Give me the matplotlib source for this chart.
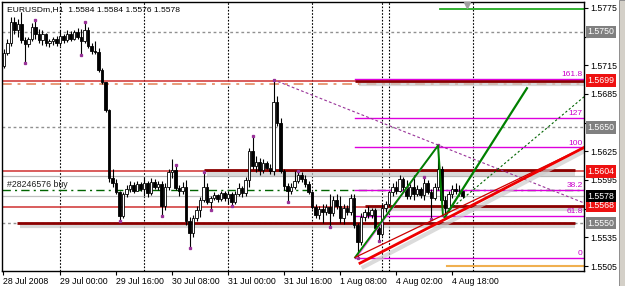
import numpy as np
import matplotlib.pyplot as plt
from matplotlib.patches import Rectangle

plt.rcParams['font.family'] = ['Liberation Sans', 'DejaVu Sans']

# EURUSDm H1, bar 0 = 29 Jul 00:00
bars = list(range(-16, 116))
opens = [1.5714, 1.5728, 1.5738, 1.5760, 1.5752, 1.5758, 1.5741, 1.5737, 1.5742, 1.5755,
         1.5748, 1.5741, 1.5748, 1.5738, 1.5740, 1.5743, 1.5738, 1.5746, 1.5741, 1.5748,
         1.5743, 1.5750, 1.5745, 1.5740, 1.5752, 1.5735, 1.5730, 1.5729, 1.5710, 1.5697,
         1.5668, 1.5597, 1.5592, 1.5582, 1.5557, 1.5580, 1.5586, 1.5590, 1.5584, 1.5591,
         1.5586, 1.5592, 1.5581, 1.5593, 1.5588, 1.5591, 1.5568, 1.5588, 1.5603, 1.5605,
         1.5587, 1.5583, 1.5588, 1.5552, 1.5540, 1.5555, 1.5564, 1.5574, 1.5588, 1.5572,
         1.5576, 1.5579, 1.5575, 1.5581, 1.5576, 1.5580, 1.5572, 1.5580, 1.5587, 1.5581,
         1.5595, 1.5625, 1.5610, 1.5614, 1.5605, 1.5613, 1.5608, 1.5604, 1.5677, 1.5655,
         1.5604, 1.5589, 1.5584, 1.5588, 1.5594, 1.5600, 1.5596, 1.5591, 1.5582, 1.5567,
         1.5558, 1.5565, 1.5562, 1.5567, 1.5560, 1.5574, 1.5568, 1.5555, 1.5566, 1.5561,
         1.5576, 1.5548, 1.5530, 1.5556, 1.5562, 1.5558, 1.5564, 1.5545, 1.5538, 1.5566,
         1.5570, 1.5582, 1.5588, 1.5584, 1.5596, 1.5588, 1.5578, 1.5588, 1.5580, 1.5586,
         1.5579, 1.5592, 1.5582, 1.5576, 1.5588, 1.5606, 1.5574, 1.5566, 1.5580, 1.5586,
         1.5583, 1.5584]
highs = [1.5732, 1.5742, 1.5765, 1.5765, 1.5763, 1.5771, 1.5745, 1.5745, 1.5759, 1.5762,
         1.5753, 1.5752, 1.5749, 1.5743, 1.5745, 1.5746, 1.5752, 1.5748, 1.5752, 1.5751,
         1.5752, 1.5754, 1.5753, 1.5760, 1.5755, 1.5738, 1.5740, 1.5733, 1.5712, 1.5698,
         1.5669, 1.5606, 1.5596, 1.5584, 1.5582, 1.5590, 1.5594, 1.5593, 1.5594, 1.5593,
         1.5598, 1.5594, 1.5597, 1.5596, 1.5594, 1.5594, 1.5592, 1.5607, 1.5617, 1.5610,
         1.5590, 1.5593, 1.5595, 1.5556, 1.5558, 1.5568, 1.5577, 1.5603, 1.5592, 1.5578,
         1.5582, 1.5580, 1.5584, 1.5583, 1.5583, 1.5582, 1.5584, 1.5592, 1.5589, 1.5598,
         1.5628, 1.5640, 1.5620, 1.5618, 1.5617, 1.5615, 1.5612, 1.5699, 1.5683, 1.5660,
         1.5606, 1.5592, 1.5592, 1.5604, 1.5604, 1.5603, 1.5600, 1.5594, 1.5584, 1.5570,
         1.5568, 1.5570, 1.5570, 1.5580, 1.5578, 1.5580, 1.5578, 1.5570, 1.5569, 1.5580,
         1.5580, 1.5550, 1.5560, 1.5565, 1.5568, 1.5566, 1.5566, 1.5550, 1.5570, 1.5573,
         1.5584, 1.5592, 1.5594, 1.5600, 1.5598, 1.5595, 1.5592, 1.5600, 1.5590, 1.5588,
         1.5598, 1.5595, 1.5586, 1.5592, 1.5631, 1.5610, 1.5578, 1.5584, 1.5590, 1.5592,
         1.5590, 1.5584]
lows = [1.5712, 1.5726, 1.5735, 1.5748, 1.5745, 1.5738, 1.5718, 1.5734, 1.5740, 1.5743,
        1.5738, 1.5736, 1.5735, 1.5734, 1.5736, 1.5735, 1.5735, 1.5738, 1.5739, 1.5740,
        1.5741, 1.5742, 1.5726, 1.5738, 1.5733, 1.5727, 1.5727, 1.5708, 1.5695, 1.5666,
        1.5593, 1.5588, 1.5580, 1.5553, 1.5555, 1.5577, 1.5582, 1.5581, 1.5583, 1.5584,
        1.5578, 1.5577, 1.5579, 1.5586, 1.5585, 1.5558, 1.5564, 1.5585, 1.5597, 1.5585,
        1.5578, 1.5580, 1.5548, 1.5524, 1.5535, 1.5552, 1.5556, 1.5572, 1.5570, 1.5564,
        1.5574, 1.5572, 1.5573, 1.5573, 1.5570, 1.5568, 1.5570, 1.5578, 1.5577, 1.5578,
        1.5588, 1.5606, 1.5603, 1.5600, 1.5602, 1.5606, 1.5601, 1.5600, 1.5652, 1.5602,
        1.5585, 1.5573, 1.5580, 1.5586, 1.5592, 1.5593, 1.5588, 1.5580, 1.5565, 1.5555,
        1.5554, 1.5550, 1.5558, 1.5546, 1.5557, 1.5565, 1.5550, 1.5549, 1.5558, 1.5558,
        1.5545, 1.5514, 1.5527, 1.5552, 1.5555, 1.5555, 1.5542, 1.5532, 1.5536, 1.5562,
        1.5568, 1.5578, 1.5580, 1.5582, 1.5585, 1.5575, 1.5575, 1.5574, 1.5578, 1.5576,
        1.5574, 1.5580, 1.5555, 1.5574, 1.5585, 1.5572, 1.5558, 1.5562, 1.5576, 1.5580,
        1.5578, 1.5576]
closes = [1.5728, 1.5738, 1.5760, 1.5752, 1.5758, 1.5741, 1.5737, 1.5742, 1.5755, 1.5748,
          1.5741, 1.5748, 1.5738, 1.5740, 1.5743, 1.5738, 1.5746, 1.5741, 1.5748, 1.5743,
          1.5750, 1.5745, 1.5740, 1.5752, 1.5735, 1.5730, 1.5729, 1.5710, 1.5697, 1.5668,
          1.5597, 1.5592, 1.5582, 1.5557, 1.5580, 1.5586, 1.5590, 1.5584, 1.5591, 1.5586,
          1.5592, 1.5581, 1.5593, 1.5588, 1.5591, 1.5568, 1.5588, 1.5603, 1.5605, 1.5587,
          1.5583, 1.5588, 1.5552, 1.5540, 1.5555, 1.5564, 1.5574, 1.5588, 1.5572, 1.5576,
          1.5579, 1.5575, 1.5581, 1.5576, 1.5580, 1.5572, 1.5580, 1.5587, 1.5581, 1.5595,
          1.5625, 1.5610, 1.5614, 1.5605, 1.5613, 1.5608, 1.5604, 1.5677, 1.5655, 1.5604,
          1.5589, 1.5584, 1.5588, 1.5594, 1.5600, 1.5596, 1.5591, 1.5582, 1.5567, 1.5558,
          1.5565, 1.5562, 1.5567, 1.5560, 1.5574, 1.5568, 1.5555, 1.5566, 1.5561, 1.5576,
          1.5548, 1.5530, 1.5556, 1.5562, 1.5558, 1.5564, 1.5545, 1.5538, 1.5566, 1.5570,
          1.5582, 1.5588, 1.5584, 1.5596, 1.5588, 1.5578, 1.5588, 1.5580, 1.5586, 1.5579,
          1.5592, 1.5582, 1.5576, 1.5588, 1.5606, 1.5574, 1.5566, 1.5580, 1.5586, 1.5583,
          1.5584, 1.5578]

# fractal dots (bar indices)
frac_up = [-7, 7, 33, 41, 55, 61, 68, 104, 108]
frac_dn = [-10, 6, 17, 29, 37, 43, 49, 65, 77, 85, 91, 106]

# axis labels (labels hidden behind price boxes are left blank)
price_ticks = [1.5505, 1.5535, 1.5565, 1.5595, 1.5625, 1.5655, 1.5685, 1.5715, 1.5745, 1.5775]
price_tick_labels = ['1.5505', '1.5535', '', '1.5595', '1.5625', '', '1.5685', '1.5715', '', '1.5775']
time_ticks = [-16.4, 0, 16, 32, 48, 64, 80, 96, 112]
time_labels = ['28 Jul 2008', '29 Jul 00:00', '29 Jul 16:00', '30 Jul 08:00', '31 Jul 00:00',
               '31 Jul 16:00', '1 Aug 08:00', '4 Aug 02:00', '4 Aug 18:00']
day_separators = [0, 24, 48, 72, 92, 94, 118]

# chart objects
gray_levels = [1.5750, 1.5650, 1.5550]
red_levels = [1.5699, 1.5604, 1.5567]
order_price = 1.5585
bid = 1.5578
fib_levels = [1.5701, 1.5660, 1.5629, 1.5585, 1.5557, 1.5513]
fib_labels = ['161.8', '127', '100', '38.2', '61.8', '0']
thick_segments = [(84.3, 149.7, 1.5699), (41, 147, 1.5605), (87, 149.7, 1.5568), (-12.3, 147, 1.5550)]
swing_low = (84.3, 1.5514)
swing_high = (108.0, 1.5631)
pullback = (109.4, 1.5558)
green_up = (133.4, 1.5691)
green_dot_end = (149.7, 1.5682)
diag_start = (60.9, 1.5700)
diag_end = (149.7, 1.5571)
red_thin = [(84.3, 1.5514), (149.7, 1.5629)]
red_thick = [(85.7, 1.5508), (149.7, 1.5629)]
green_top = (108.6, 1.5774)
orange_low = (110.6, 1.5505)

price_boxes = [(1.5750, '#808080'), (1.5650, '#808080'), (1.5550, '#808080'),
               (1.5699, '#ee1111'), (1.5604, '#ee1111'), (1.5568, '#ee1111'),
               (1.5578, '#000000')]

fig = plt.figure(figsize=(6.25, 2.86), dpi=100)
ax = fig.add_axes([2 / 625, 15 / 286, 582 / 625, 269 / 286])
xl, xr = -16.57, 149.7
ax.set_xlim(xl, xr)
ax.set_ylim(1.54998, 1.57812)

# separators
for s in day_separators:
    ax.axvline(s, color='black', lw=0.8, ls=(0, (1.5, 1.5)), zorder=1)

# full width horizontal lines
for g in gray_levels:
    ax.axhline(g, color='#909090', lw=1, ls=(0, (2, 2)), zorder=1)
for r in red_levels:
    ax.axhline(r, color='#d03030', lw=1.1, zorder=1)
ax.axhline(1.5695, color='#e89a78', lw=1.4, ls=(0, (5, 3, 1.5, 3)), zorder=1)
ax.axhline(1.5599, color='#b8b8b8', lw=0.9, zorder=1)
ax.axhline(order_price, color='#006400', lw=1, ls=(0, (6, 3, 1.5, 3)), zorder=1)
ax.axhline(bid, color='#c0c0c0', lw=0.9, zorder=1)

# thick segments with shadow
for x0, x1, p in thick_segments:
    ax.plot([x0 + 1, x1], [p - 0.00035, p - 0.00035], color='#c8c8c8', lw=3, alpha=0.7,
            solid_capstyle='butt', zorder=1)
    ax.plot([x0, x1], [p, p], color='#8b0000', lw=2, solid_capstyle='butt', zorder=2)

# fibonacci levels
for p, lab in zip(fib_levels, fib_labels):
    ax.plot([swing_low[0], 149.3], [p, p], color='#dd00dd', lw=1, zorder=2)
    ax.text(149.3, p + 0.0001, lab, color='#cc00cc', fontsize=6, ha='right', va='bottom', zorder=5)

# candles
o = np.array(opens)
c = np.array(closes)
h = np.array(highs)
l = np.array(lows)
x = np.array(bars)
ax.vlines(x, l, h, color='black', lw=0.8, zorder=3)
up = c >= o
body_lo = np.minimum(o, c)
body_h = np.maximum(np.abs(c - o), 0.00008)
ax.bar(x[up], body_h[up], bottom=body_lo[up], width=0.6, color='white', edgecolor='black',
       lw=0.6, zorder=4)
ax.bar(x[~up], body_h[~up], bottom=body_lo[~up], width=0.6, color='black', edgecolor='black',
       lw=0.6, zorder=4)

idx = {b: k for k, b in enumerate(bars)}
ax.plot(frac_up, [highs[idx[b]] + 0.00006 for b in frac_up], 's', color='#993399', ms=1.4, zorder=5)
ax.plot(frac_dn, [lows[idx[b]] - 0.00006 for b in frac_dn], 's', color='#993399', ms=1.4, zorder=5)

# trend objects
ax.plot([diag_start[0], diag_end[0]], [diag_start[1], diag_end[1]], color='#993399', lw=0.8,
        ls=(0, (2.5, 2)), zorder=2)
ax.plot([swing_low[0] + 0.5, swing_high[0]], [swing_low[1], swing_high[1]], color='#ff66ff',
        lw=0.8, zorder=5)
ax.plot([swing_low[0], swing_high[0], pullback[0]], [swing_low[1], swing_high[1], pullback[1]],
        color='#008000', lw=1.4, zorder=6)
ax.plot([pullback[0] + 0.5, green_up[0]], [pullback[1] - 0.0002, green_up[1]], color='#008000',
        lw=1.6, zorder=6)
ax.plot([pullback[0], green_dot_end[0]], [pullback[1], green_dot_end[1]], color='#006400',
        lw=0.8, ls=(0, (2, 2)), zorder=2)
ax.plot([red_thick[0][0] + 1, red_thick[1][0]], [red_thick[0][1] - 0.0004, red_thick[1][1] - 0.0004],
        color='#cccccc', lw=3, alpha=0.7, zorder=2)
ax.plot([p[0] for p in red_thin], [p[1] for p in red_thin], color='#cc0000', lw=0.9, zorder=6)
ax.plot([p[0] for p in red_thick], [p[1] for p in red_thick], color='#ee0000', lw=2, zorder=6)
ax.plot([green_top[0], xr], [green_top[1], green_top[1]], color='#22aa22', lw=1.3, zorder=2)
ax.plot([orange_low[0], xr], [orange_low[1], orange_low[1]], color='#f0b050', lw=1.5, zorder=2)
ax.plot([116.3], [1.5778], 'v', color='#a0a0a0', ms=4, zorder=6, clip_on=False)

# texts
ax.text(0.009, 0.985, 'EURUSDm,H1  1.5584 1.5584 1.5576 1.5578', transform=ax.transAxes,
        fontsize=6.1, va='top', ha='left', zorder=7)
ax.text(-15, order_price + 0.00005, '#28246576 buy', fontsize=6.3, color='#202020',
        va='bottom', ha='left', zorder=7)

# axes
ax.yaxis.tick_right()
ax.set_yticks(price_ticks)
ax.set_yticklabels(price_tick_labels)
ax.set_xticks(time_ticks)
ax.set_xticklabels(time_labels, ha='left')
ax.tick_params(axis='both', labelsize=6.3, length=3, width=0.8, pad=1.5, direction='out')
for sp in ax.spines.values():
    sp.set_color('black')
    sp.set_linewidth(1)

for p, col in price_boxes:
    ax.annotate('%.4f' % p, xy=(1, p), xycoords=ax.get_yaxis_transform(), xytext=(2.5, 0),
                textcoords='offset points', ha='left', va='center', fontsize=6.3, color='white',
                bbox=dict(boxstyle='square,pad=0.2', fc=col, ec='none'), zorder=8,
                annotation_clip=False)

fig.patches.append(Rectangle((619 / 625, 0), 6 / 625, 1, transform=fig.transFigure,
                             fc='#d4d0c8', ec='#808080', lw=0.6))

fig.savefig('out.png', dpi=100)
